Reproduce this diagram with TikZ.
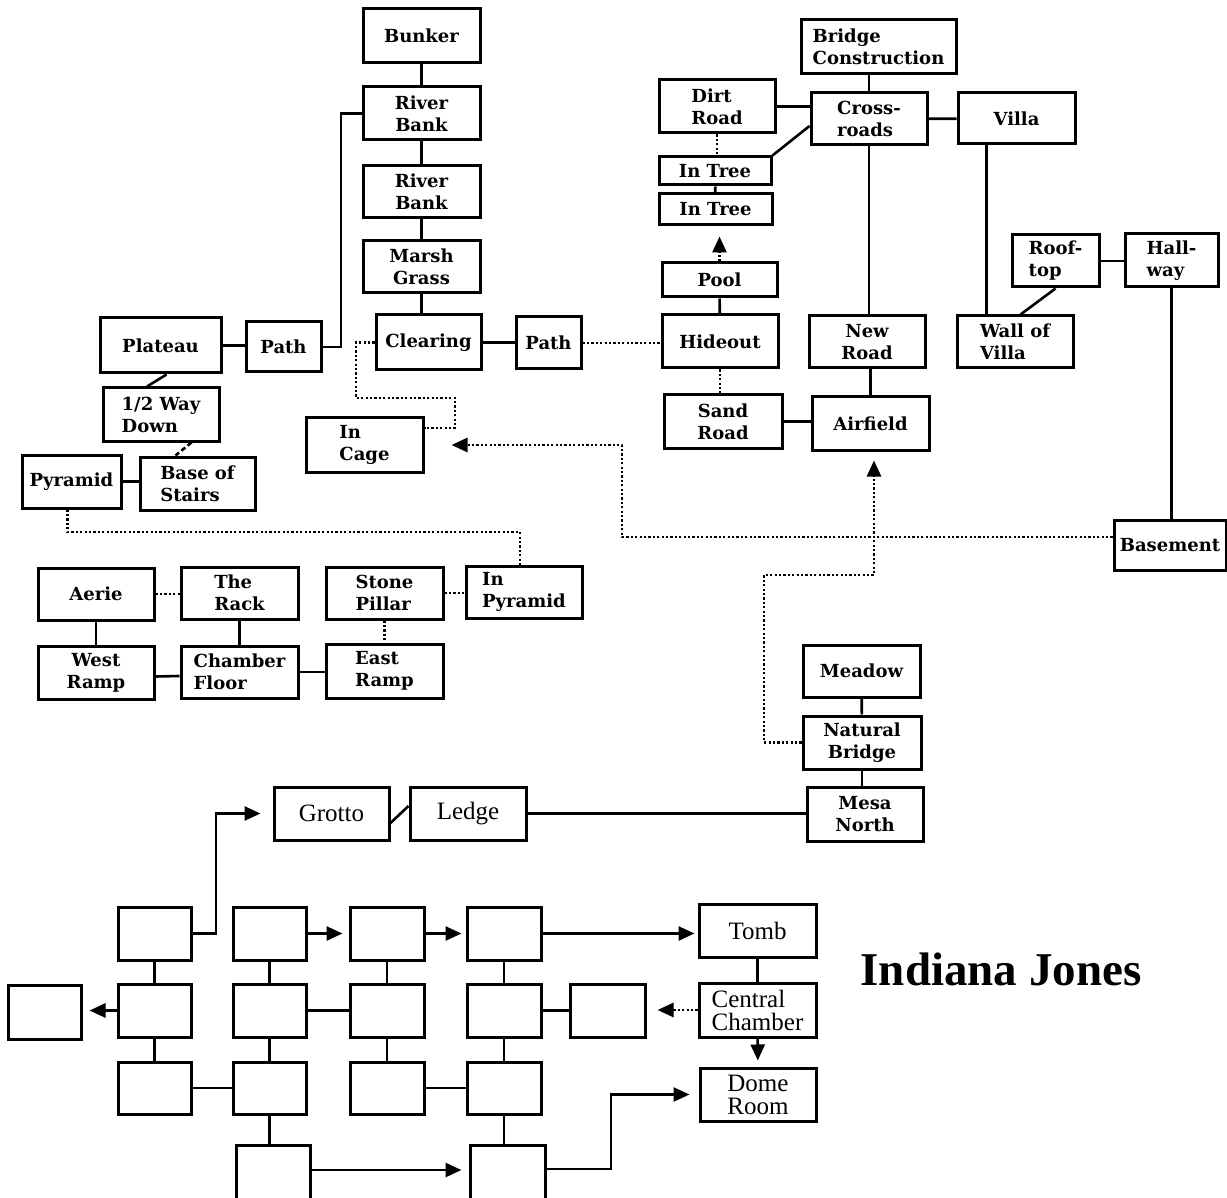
\documentclass[tikz,border=0pt]{standalone}
\usepackage{fontspec}
\setmainfont{DejaVu Serif}
\newfontfamily\timesfam{Liberation Serif}
\usetikzlibrary{arrows.meta}
\tikzset{
 room/.style={draw, line width=1.5pt, inner sep=0pt, align=center, font=\bfseries\fontsize{9}{11}\selectfont},
 roomL/.style={room, align=left},
 troom/.style={draw, line width=1.5pt, inner sep=0pt, align=left, font=\timesfam\fontsize{12.5}{11.5}\selectfont},
 conn/.style={line width=1.3pt},
 dotline/.style={line width=1.4pt, dash pattern=on 1.1pt off 1.1pt},
 dashline/.style={line width=1.3pt, dash pattern=on 2.5pt off 1.5pt},
 arr/.style={-{Triangle[length=8pt,width=7pt]}},
}
\newcommand\roombox[7]{\node[#2, minimum width={(#5-#3)*0.5pt}, minimum height={(#6-#4)*0.5pt}] (#1) at ({(#3+#5)/2},{(#4+#6)/2}) {#7};}
\begin{document}
\begin{tikzpicture}[x=0.5pt,y=-0.5pt]
\useasboundingbox (0,0) rectangle (1227,1198);
% upper middle column
\roombox{bunker}{room}{363}{9}{480}{63}{Bunker}
\roombox{rba}{room}{363}{87}{480}{140}{River\\Bank}
\roombox{rbb}{room}{363}{166}{480}{218}{River\\Bank}
\roombox{marsh}{room}{363}{241}{480}{293}{Marsh\\Grass}
\roombox{clearing}{room}{376}{315}{481}{370}{Clearing}
\roombox{pathb}{room}{516}{317}{581}{369}{Path}
\roombox{plateau}{room}{100}{318}{221}{373}{Plateau}
\roombox{patha}{room}{246}{322}{321}{372}{Path}
\roombox{half}{roomL}{103}{388}{219}{441}{1/2 Way\\Down}
\roombox{stairs}{roomL}{140}{457}{255}{510}{Base of\\Stairs}
\roombox{pyramid}{room}{22}{455}{121}{508}{Pyramid}
\roombox{incage}{roomL}{306}{418}{423}{472}{In\\Cage}
\roombox{aerie}{room}{38}{568}{154}{620}{Aerie}
\roombox{rack}{roomL}{181}{567}{298}{619}{The\\Rack}
\roombox{pillar}{roomL}{326}{567}{443}{619}{Stone\\Pillar}
\roombox{inpyr}{roomL}{466}{566}{582}{618}{In\\Pyramid}
\roombox{wramp}{room}{38}{646}{154}{699}{West\\Ramp}
\roombox{floor}{roomL}{181}{646}{298}{698}{Chamber\\Floor}
\roombox{eramp}{roomL}{326}{644}{443}{698}{East\\Ramp}
% upper right
\roombox{dirt}{roomL}{659}{80}{775}{133}{Dirt\\Road}
\roombox{treea}{room}{659}{157}{771}{185}{In Tree}
\roombox{treeb}{room}{659}{194}{772}{225}{In Tree}
\roombox{pool}{room}{662}{263}{777}{297}{Pool}
\roombox{hideout}{room}{662}{315}{778}{368}{Hideout}
\roombox{sand}{room}{664}{395}{782}{448}{Sand\\Road}
\roombox{bridge}{roomL}{801}{20}{956}{74}{Bridge\\Construction}
\roombox{cross}{roomL}{811}{93}{927}{145}{Cross-\\roads}
\roombox{villa}{room}{958}{93}{1075}{144}{Villa}
\roombox{newroad}{room}{809}{316}{925}{368}{New\\Road}
\roombox{airfield}{room}{812}{397}{929}{450}{Airfield}
\roombox{roof}{roomL}{1012}{235}{1099}{287}{Roof-\\top}
\roombox{hall}{roomL}{1125}{234}{1218}{287}{Hall-\\way}
\roombox{wall}{roomL}{957}{316}{1073}{368}{Wall of\\Villa}
\roombox{basement}{room}{1114}{520}{1226}{570}{Basement}
\roombox{meadow}{room}{803}{645}{920}{697}{Meadow}
\roombox{natbridge}{room}{803}{716}{921}{769}{Natural\\Bridge}
\roombox{mesa}{room}{807}{787}{923}{841}{Mesa\\North}
% lower part
\roombox{grotto}{troom}{274}{787}{389}{840}{Grotto}
\roombox{ledge}{troom}{410}{787}{526}{840}{Ledge}
\roombox{g11}{room}{118}{907}{191}{960}{}
\roombox{g12}{room}{233}{907}{306}{960}{}
\roombox{g13}{room}{350}{907}{424}{960}{}
\roombox{g14}{room}{467}{907}{541}{960}{}
\roombox{tomb}{troom}{699}{904}{816}{957}{Tomb}
\roombox{g20}{room}{8}{985}{81}{1039}{}
\roombox{g21}{room}{118}{984}{191}{1037}{}
\roombox{g22}{room}{233}{984}{306}{1037}{}
\roombox{g23}{room}{350}{984}{424}{1037}{}
\roombox{g24}{room}{467}{984}{541}{1037}{}
\roombox{g25}{room}{570}{984}{645}{1037}{}
\roombox{central}{troom}{699}{983}{816}{1037}{Central\\Chamber}
\roombox{g31}{room}{118}{1062}{191}{1114}{}
\roombox{g32}{room}{233}{1062}{306}{1114}{}
\roombox{g33}{room}{350}{1062}{424}{1114}{}
\roombox{g34}{room}{467}{1062}{541}{1114}{}
\roombox{dome}{troom}{700}{1068}{816}{1121}{Dome\\Room}
\roombox{g42}{room}{236}{1145}{310}{1215}{}
\roombox{g44}{room}{470}{1145}{545}{1215}{}
\node[anchor=base, font=\timesfam\bfseries\fontsize{23.5}{28}\selectfont] (title) at (1001,985) {Indiana Jones};
% connectors: left/middle
\draw[conn] (bunker) -- (rba);
\draw[conn] (rba) -- (rbb);
\draw[conn] (rbb) -- (marsh);
\draw[conn] (marsh.south) -- (marsh.south |- clearing.north);
\draw[conn] (clearing.east) -- (clearing.east -| pathb.west);
\draw[conn] (plateau.east) -- (plateau.east -| patha.west);
\draw[conn] (patha.east) -- (341,347) |- (rba.west);
\draw[conn] ([xshift=34pt]plateau.south west) -- ([xshift=22.75pt]half.north west);
\draw[dashline] ([xshift=45pt]half.south west) -- ([xshift=18.5pt]stairs.north west);
\draw[conn] (pyramid.east) -- (pyramid.east -| stairs.west);
\draw[dotline] ([xshift=23.5pt]pyramid.south west) |- (520,532) -- (520,566);
\draw[dotline] (aerie.east) -- (aerie.east -| rack.west);
\draw[dotline] (pillar.east) -- (pillar.east -| inpyr.west);
\draw[dotline] (pillar) -- (eramp);
\draw[conn] (aerie) -- (wramp);
\draw[conn] (rack) -- (floor);
\draw[conn] ([yshift=-2pt]wramp.east) -- ([yshift=-2pt]floor.west);
\draw[conn] (floor.east) -- (floor.east -| eramp.west);
\draw[dotline] (clearing.west) -| (356,398) -| (455,428) -- ([yshift=8.5pt]incage.east);
% connectors: right
\draw[dotline] (dirt.south) -- (dirt.south |- treea.north);
\draw[conn] (treea) -- (treeb);
\draw[conn] (dirt.east) -- (dirt.east -| cross.west);
\draw[conn] (treea.north east) -- ([yshift=-3.5pt]cross.west);
\draw[dotline, arr, shorten >=5pt] (pool.north) -- (pool.north |- treeb.south);
\draw[conn] (pool) -- (hideout);
\draw[dotline] (pathb.east) -- (pathb.east -| hideout.west);
\draw[dotline] (hideout.south) -- (hideout.south |- sand.north);
\draw[conn] (sand.east) -- (sand.east -| airfield.west);
\draw[conn] (cross.north) -- (cross.north |- bridge.south);
\draw[conn] (cross) -- (villa);
\draw[conn] (cross.south) -- (cross.south |- newroad.north);
\draw[conn] (airfield.north) -- (airfield.north |- newroad.south);
\draw[conn] ([xshift=15pt]villa.south west) -- ([xshift=15.5pt]wall.north west);
\draw[conn] (roof.east) -- (roof.east -| hall.west);
\draw[conn] ([xshift=22.5pt]roof.south west) -- ([xshift=32.5pt]wall.north west);
\draw[conn] (hall.south) -- (hall.south |- basement.north);
\draw[dotline, arr] ([yshift=4pt]basement.west) -| (622,445) -- ([xshift=13.5pt]incage.east);
\draw[dotline, arr] (natbridge.west) -| (764,575) -| ([xshift=1.75pt,yshift=-4.5pt]airfield.south);
\draw[conn] (meadow) -- (natbridge);
\draw[conn] (natbridge.south) -- (natbridge.south |- mesa.north);
\draw[conn] (ledge.east) -- (ledge.east -| mesa.west);
\draw[conn] ([yshift=-4.75pt]grotto.east) -- ([yshift=3.75pt]ledge.west);
% connectors: grid
\draw[conn, arr] (g11.east) -| (216,813.5) -- ([xshift=-6pt]grotto.west);
\draw[conn, arr, shorten >=3pt] (g12.east) -- (g12.east -| g13.west);
\draw[conn, arr, shorten >=2pt] (g13.east) -- (g13.east -| g14.west);
\draw[conn, arr, shorten >=1.5pt] (g14.east) -- (g14.east -| tomb.west);
\draw[conn, arr, shorten >=3.5pt] (g21.west) -- (g21.west -| g20.east);
\draw[conn] (g11) -- (g21);
\draw[conn] (g21) -- (g31);
\draw[conn] (g12) -- (g22);
\draw[conn] (g22) -- (g32);
\draw[conn] (g13) -- (g23);
\draw[conn] (g23) -- (g33);
\draw[conn] (g14) -- (g24);
\draw[conn] (g24) -- (g34);
\draw[conn] (g22.east) -- (g22.east -| g23.west);
\draw[conn] (g24.east) -- (g24.east -| g25.west);
\draw[dotline, arr, shorten >=5.5pt] (central.west) -- (central.west -| g25.east);
\draw[conn] (tomb) -- (central);
\draw[conn, arr, shorten >=3pt] (central) -- (dome);
\draw[conn] (g31.east) -- (g31.east -| g32.west);
\draw[conn] (g33.east) -- (g33.east -| g34.west);
\draw[conn] (g32.south) -- (g32.south |- g42.north);
\draw[conn] (g34.south) -- (g34.south |- g44.north);
\draw[conn, arr, shorten >=3.5pt] ([yshift=5pt]g42.east) -- ([yshift=5pt]g44.west);
\draw[conn, arr] ([yshift=5.5pt]g44.east) -| (611,1094.5) -- ([xshift=-4.5pt]dome.west);
\end{tikzpicture}
\end{document}
